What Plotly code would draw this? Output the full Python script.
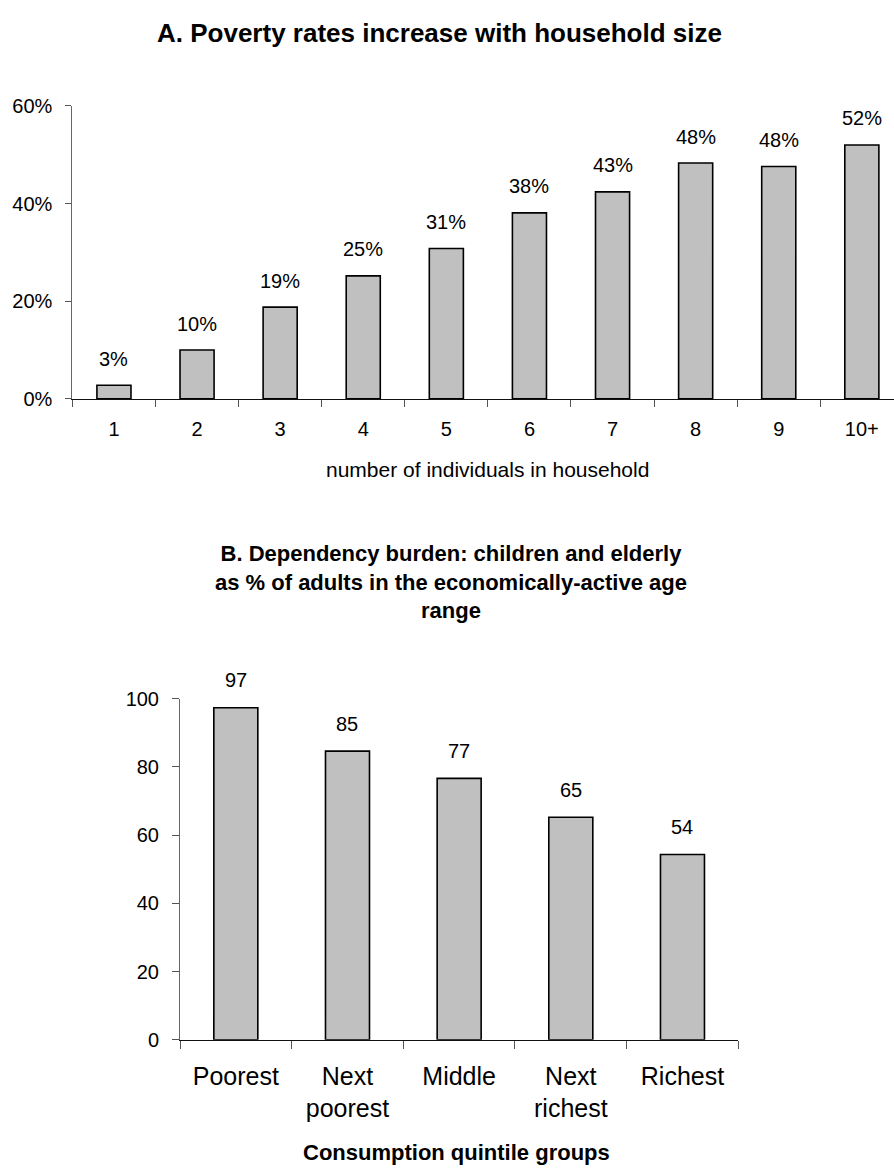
import plotly.graph_objects as go

# ---- data ----
household_size = ["1", "2", "3", "4", "5", "6", "7", "8", "9", "10+"]
poverty_rate = [2.8, 10.0, 18.8, 25.2, 30.8, 38.1, 42.4, 48.3, 47.6, 52.0]
poverty_labels = ["3%", "10%", "19%", "25%", "31%", "38%", "43%", "48%", "48%", "52%"]
poverty_ticks = [0, 20, 40, 60]
poverty_ticktext = ["0%", "20%", "40%", "60%"]

quintiles = ["Poorest", "Next<br>poorest", "Middle", "Next<br>richest", "Richest"]
dependency = [97.3, 84.6, 76.6, 65.2, 54.3]
dependency_labels = ["97", "85", "77", "65", "54"]
dependency_ticks = [0, 20, 40, 60, 80, 100]

W, H = 894, 1173
FONT = "Liberation Sans, Arial, sans-serif"


def px(x):
    return x / W


def py(y):
    return 1 - y / H


fig = go.Figure()

fig.add_trace(go.Bar(
    x=household_size, y=poverty_rate, xaxis="x", yaxis="y",
    width=0.41,
    marker=dict(color="#C0C0C0", line=dict(color="black", width=1.6)),
    hoverinfo="skip",
))
fig.add_trace(go.Bar(
    x=quintiles, y=dependency, xaxis="x2", yaxis="y2",
    width=0.394,
    marker=dict(color="#C0C0C0", line=dict(color="black", width=1.6)),
    hoverinfo="skip",
))

annotations = []
for i, (val, lab) in enumerate(zip(poverty_rate, poverty_labels)):
    annotations.append(dict(x=i, y=val, xref="x", yref="y", text=lab,
                            showarrow=False, yanchor="middle", yshift=26.5,
                            font=dict(family=FONT, size=20, color="black")))
for i, (val, lab) in enumerate(zip(dependency, dependency_labels)):
    annotations.append(dict(x=i, y=val, xref="x2", yref="y2", text=lab,
                            showarrow=False, yanchor="middle", yshift=27.5,
                            font=dict(family=FONT, size=20, color="black")))

# titles
annotations.append(dict(x=px(439.5), y=py(22), xref="paper", yref="paper",
                        text="A. Poverty rates increase with household size",
                        showarrow=False, xanchor="center", yanchor="middle",
                        font=dict(family=FONT, size=26, color="black", weight="bold")))
annotations.append(dict(x=px(487.5), y=py(467.5), xref="paper", yref="paper",
                        text="number of individuals in household",
                        showarrow=False, xanchor="center", yanchor="middle",
                        font=dict(family=FONT, size=21, color="black")))
annotations.append(dict(x=px(451), y=py(582.4), xref="paper", yref="paper",
                        text="B. Dependency burden: children and elderly<br>"
                             "as % of adults in the economically-active age<br>range",
                        showarrow=False, xanchor="center", yanchor="middle",
                        font=dict(family=FONT, size=22, color="black", weight="bold")))
annotations.append(dict(x=px(456), y=py(1163), xref="paper", yref="paper",
                        text="Consumption quintile groups",
                        showarrow=False, xanchor="center", yanchor="middle",
                        font=dict(family=FONT, size=22, color="black", weight="bold")))

fig.update_layout(
    width=W, height=H,
    margin=dict(l=0, r=0, t=0, b=0),
    paper_bgcolor="white", plot_bgcolor="white",
    showlegend=False,
    font=dict(family=FONT, color="black"),
    annotations=annotations,
    xaxis=dict(
        domain=[px(72.4), 1.0], anchor="y",
        type="category", range=[-0.5, 9.387],
        tickson="boundaries", ticks="outside", ticklen=7, tickcolor="#555",
        showline=True, linecolor="#111", linewidth=1,
        showgrid=False, zeroline=False,
        tickfont=dict(family=FONT, size=20, color="black"),
        ticklabelstandoff=12,
    ),
    yaxis=dict(
        domain=[py(395.3), py(96.7)], anchor="x",
        range=[0, 60], tickmode="array",
        tickvals=poverty_ticks, ticktext=poverty_ticktext,
        ticks="outside", ticklen=6, tickcolor="#555",
        showline=True, linecolor="#666", linewidth=1,
        showgrid=False, zeroline=False,
        tickfont=dict(family=FONT, size=20, color="black"),
        ticklabelstandoff=9,
    ),
    xaxis2=dict(
        domain=[px(180), px(738.3)], anchor="y2",
        type="category", range=[-0.5, 4.5],
        tickson="boundaries", ticks="outside", ticklen=8, tickcolor="#555",
        showline=True, linecolor="#111", linewidth=1,
        showgrid=False, zeroline=False,
        tickfont=dict(family=FONT, size=25, color="black"),
        ticklabelstandoff=14,
    ),
    yaxis2=dict(
        domain=[py(1048.5), py(700.7)], anchor="x2",
        range=[0, 100], tickmode="array", tickvals=dependency_ticks,
        ticks="outside", ticklen=7, tickcolor="#555",
        showline=True, linecolor="#666", linewidth=1,
        showgrid=False, zeroline=False,
        tickfont=dict(family=FONT, size=20, color="black"),
        ticklabelstandoff=9,
    ),
)

fig.write_html(
    "out.html",
    config={"displayModeBar": False, "staticPlot": True},
    post_script="document.body.style.margin='0';document.body.style.overflow='hidden';",
)
